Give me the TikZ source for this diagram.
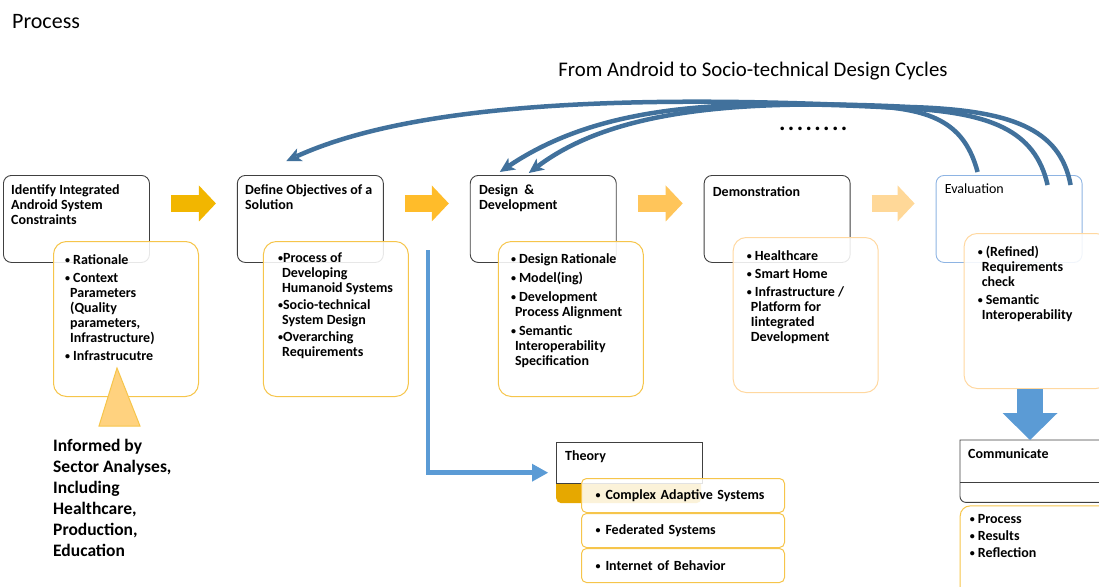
\documentclass[tikz,border=0pt]{standalone}
\usepackage{fontspec}
\setmainfont{Carlito}
\usetikzlibrary{arrows.meta, positioning}

\definecolor{boxgray}{HTML}{404040}
\definecolor{subgold}{HTML}{F6C54B}
\definecolor{subpeach}{HTML}{FFD8A0}
\definecolor{evalblue}{HTML}{8EB4E3}
\definecolor{lblue}{HTML}{5B9BD5}
\definecolor{loopblue}{HTML}{41719C}
\definecolor{tabgold}{HTML}{E6A800}
\definecolor{arrowA}{HTML}{F2B600}
\definecolor{arrowB}{HTML}{FFBC2A}
\definecolor{arrowC}{HTML}{FFC55A}
\definecolor{arrowD}{HTML}{FFD898}
\definecolor{pointerfill}{HTML}{FFD27F}

\newcommand{\itm}[2][8pt]{\makebox[#1][l]{\raisebox{1pt}{\fontsize{10}{10}\selectfont\textbullet}}#2}
\newcommand{\ind}[1][4pt]{\hspace*{#1}}

\begin{document}
\begin{tikzpicture}[x=1pt, y=-1pt]
\tikzset{
    stagebox/.style={draw=boxgray, line width=0.9pt, fill=white, rounded corners=8pt,
        anchor=north west, minimum width=146pt, minimum height=87pt},
    listbox/.style={draw=subgold, line width=1pt, fill=white, fill opacity=0.88,
        rounded corners=13pt, anchor=north west, minimum width=145pt, minimum height=155pt},
    heading/.style={anchor=north west, inner sep=0pt, align=left,
        font=\fontsize{14}{15}\selectfont\bfseries},
    items/.style={heading},
    blockarrow/.style={line width=17pt, -{Triangle[length=17pt, width=36pt, line width=0pt]}},
    loopback/.style={draw=loopblue, line width=4.5pt,
        -{Stealth[length=15pt, width=14pt, inset=4pt, line width=0pt, fill=loopblue]}},
    theoryitem/.style={draw=subgold, line width=1pt, fill=white, fill opacity=0.85, text opacity=1,
        rounded corners=5pt, minimum height=34pt, text width=175pt, inner xsep=14pt, align=left,
        font=\fontsize{14}{15}\selectfont\bfseries}
}
\useasboundingbox (0,0) rectangle (1099,586);
\clip (0,0) rectangle (1099,586);

% Titles
\node[anchor=base west, inner sep=0pt, font=\fontsize{22}{24}\selectfont] (process) at (12,29) {Process};
\node[anchor=base, inner sep=0pt, font=\fontsize{20.8}{24}\selectfont] (title) at (753,77)
    {From Android to Socio-technical Design Cycles};
\node[anchor=base west, inner sep=0pt, font=\fontsize{24}{24}\selectfont\bfseries\addfontfeature{LetterSpace=10}]
    (dots) at (779,130) {........};

% Stage boxes
\node[stagebox] (ident) at (3,175) {};
\node[stagebox, right=87pt of ident] (define) {};
\node[stagebox, right=86pt of define] (design) {};
\node[stagebox, right=87pt of design] (demo) {};
\node[stagebox, draw=evalblue, right=85pt of demo] (eval) {};

\node[heading] (identT) at ([shift={(8pt,-9pt)}]ident.north west)
    {Identify Integrated\\Android System\\Constraints};
\node[heading] (defineT) at ([shift={(8pt,-9pt)}]define.north west)
    {Define Objectives of a\\Solution};
\node[heading] (designT) at ([shift={(9pt,-9pt)}]design.north west)
    {Design\ \ \&\\Development};
\node[heading] (demoT) at ([shift={(9pt,-11pt)}]demo.north west) {Demonstration};
\node[heading, font=\fontsize{14}{15}\selectfont] (evalT) at ([shift={(9pt,-9pt)}]eval.north west) {Evaluation};

% Detail boxes
\node[listbox] (identsub) at ([shift={(50pt,-66pt)}]ident.north west) {};
\node[listbox] (definesub) at ([shift={(26pt,-66pt)}]define.north west) {};
\node[listbox] (designsub) at ([shift={(28pt,-66pt)}]design.north west) {};
\node[listbox, draw=subpeach] (demosub) at ([shift={(29pt,-62pt)}]demo.north west) {};
\node[listbox, draw=subpeach] (evalsub) at ([shift={(28pt,-58pt)}]eval.north west) {};

\node[items] (identL) at ([shift={(12pt,-13pt)}]identsub.north west)
    {\itm{Rationale}\\[3pt]
     \itm{Context}\\ \ind[5pt]Parameters\\ \ind[5pt](Quality\\ \ind[5pt]parameters,\\ \ind[5pt]Infrastructure)\\[3pt]
     \itm{Infrastrucutre}};
\node[items] (defineL) at ([shift={(15pt,-12pt)}]definesub.north west)
    {\itm[5pt]{Process of}\\ \ind Developing\\ \ind Humanoid Systems\\[2pt]
     \itm[5pt]{Socio-technical}\\ \ind System Design\\[2pt]
     \itm[5pt]{Overarching}\\ \ind Requirements};
\node[items] (designL) at ([shift={(13pt,-12pt)}]designsub.north west)
    {\itm{Design Rationale}\\[4pt]
     \itm{Model(ing)}\\[4pt]
     \itm{Development}\\ \ind Process Alignment\\[4pt]
     \itm{Semantic}\\ \ind Interoperability\\ \ind Specification};
\node[items] (demoL) at ([shift={(14pt,-13pt)}]demosub.north west)
    {\itm{Healthcare}\\[3pt]
     \itm{Smart Home}\\[3pt]
     \itm{Infrastructure /}\\ \ind Platform for\\ \ind Iintegrated\\ \ind Development};
\node[items] (evalL) at ([shift={(14pt,-13pt)}]evalsub.north west)
    {\itm{(Refined)}\\ \ind Requirements\\ \ind check\\[3pt]
     \itm{Semantic}\\ \ind Interoperability};

% Flow arrows between stages
\draw[blockarrow, color=arrowA] ([xshift=21pt, yshift=15.5pt]ident.east) -- ([xshift=-21pt, yshift=15.5pt]define.west);
\draw[blockarrow, color=arrowB] ([xshift=21pt, yshift=15.5pt]define.east) -- ([xshift=-21pt, yshift=15.5pt]design.west);
\draw[blockarrow, color=arrowC] ([xshift=21pt, yshift=15.5pt]design.east) -- ([xshift=-21pt, yshift=15.5pt]demo.west);
\draw[blockarrow, color=arrowD] ([xshift=21pt, yshift=15.5pt]demo.east) -- ([xshift=-21pt, yshift=15.5pt]eval.west);

% Sector analyses
\node[anchor=north west, inner sep=0pt, align=left, font=\fontsize{17.5}{21}\selectfont\bfseries]
    (informed) at (53,439) {Informed by\\Sector Analyses,\\Including\\Healthcare,\\Production,\\Education};
\filldraw[fill=pointerfill, draw=subgold, line width=1pt] (99,426) -- (117,368) -- (140,426) -- cycle;

% Theory
\node[fill=tabgold, rounded corners=5pt, anchor=north west, minimum width=145pt, minimum height=61pt] (theory) at (556,442) {};
\node[draw=boxgray, line width=0.9pt, fill=white, anchor=north west, minimum width=146pt, minimum height=41pt] (theoryhead) at (556,442) {};
\node[heading] (theoryT) at ([shift={(9pt,-8pt)}]theoryhead.north west) {Theory};
\node[theoryitem, anchor=north west] (thA) at (581,478) {\itm[10pt]{Complex Adaptive Systems}};
\node[theoryitem, below=0pt of thA] (thB) {\itm[10pt]{Federated Systems}};
\node[theoryitem, below=0pt of thB] (thC) {\itm[10pt]{Internet of Behavior}};

\draw[lblue, line width=4.5pt, -{Triangle[length=16pt, width=18pt, line width=0pt]}]
    ([shift={(19pt,-9pt)}]definesub.north east) |- ([xshift=-8pt]theory.west);

% Communicate
\node[anchor=north west, fill=white, minimum width=150pt, minimum height=62pt] (comm) at (960,440) {};
\draw[boxgray, line width=0.9pt] (comm.north east) -- (comm.north west) -- ([yshift=6pt]comm.south west)
    arc[start angle=180, end angle=270, radius=6pt] -- (comm.south east);
\draw[boxgray, line width=0.9pt] ([yshift=-42pt]comm.north west) -- ([yshift=-42pt]comm.north east);
\node[heading] (commT) at ([shift={(8pt,-8pt)}]comm.north west) {Communicate};
\node[draw=subgold, line width=1pt, fill=white, rounded corners=10pt, minimum width=150pt, minimum height=100pt,
    below=3pt of comm] (commsub) {};
\node[items] (commL) at ([shift={(10pt,-9pt)}]commsub.north west)
    {\itm{Process}\\[2pt]\itm{Results}\\[2pt]\itm{Reflection}};

\coordinate (commtop) at ([xshift=70pt]comm.north west);
\draw[lblue, line width=26pt, -{Triangle[length=27pt, width=55pt, line width=0pt]}]
    (commtop |- evalsub.south) -- (commtop);

% Design cycles back from evaluation
\coordinate (c1s) at ([shift={(42pt,3pt)}]eval.north west);
\coordinate (c1e) at ([shift={(-24pt,14pt)}]define.north);
\coordinate (c2s) at ([shift={(112pt,-10pt)}]eval.north west);
\coordinate (c2e) at ([shift={(30pt,3pt)}]design.north west);
\coordinate (c3s) at ([shift={(135pt,-10pt)}]eval.north west);
\coordinate (c3e) at ([shift={(59pt,2pt)}]design.north west);

\draw[loopback] (c1s) .. controls (965,125) and (935,109) .. (870,106)
    .. controls (650,96) and (420,100) .. (c1e);
\draw[loopback] (c2s) .. controls (1035,130) and (990,112) .. (900,108)
    .. controls (720,98) and (600,105) .. (c2e);
\draw[loopback] (c3s) .. controls (1060,128) and (1010,110) .. (910,107)
    .. controls (730,98) and (610,112) .. (c3e);

\end{tikzpicture}
\end{document}
